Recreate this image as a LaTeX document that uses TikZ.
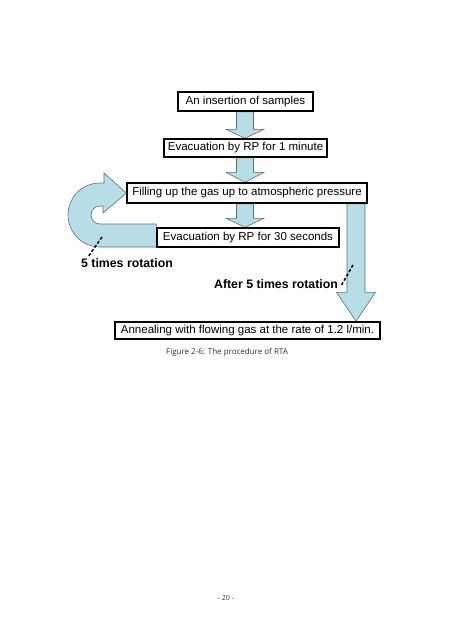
\documentclass[tikz,border=0pt]{standalone}
\usepackage{fontspec}
\setmainfont{Liberation Sans}
\newfontfamily\capfont{Open Sans}
\usetikzlibrary{calc}
\definecolor{arrowfill}{HTML}{B7DDE6}
\definecolor{arrowline}{HTML}{5F6F75}
\pgfdeclarelayer{paper}
\pgfdeclarelayer{bg}
\pgfsetlayers{paper,bg,main}
\newcommand\blockdown[5]{%
  \draw[blockarrow] ($(#1)+(-#3,0)$) -- ($(#1)+(#3,0)$) -- ($(#2)+(#3,-#5)$) -- ($(#2)+(#4,-#5)$) -- (#2) -- ($(#2)+(-#4,-#5)$) -- ($(#2)+(-#3,-#5)$) -- cycle;}
\begin{document}
\begin{tikzpicture}[x=1pt,y=-1pt,
  stepbox/.style={draw=black,line width=1.4pt,fill=white,inner sep=0pt,font=\fontsize{11.5}{13}\selectfont},
  blockarrow/.style={draw=arrowline,line width=0.6pt,fill=arrowfill,line join=miter},
  dashline/.style={draw=black,line width=1.5pt,dash pattern=on 3pt off 2pt},
  rotlabel/.style={font=\fontsize{12.3}{14}\selectfont\bfseries,inner sep=0pt}]
\begin{pgfonlayer}{paper}
\fill[white] (0,0) rectangle (452,640);
\end{pgfonlayer}
\path[use as bounding box] (0,0) rectangle (452,640);

\node[stepbox,minimum width=135pt,minimum height=19pt] (b1) at (245.5,101.5) {An insertion of samples};
\node[stepbox,minimum width=163pt,minimum height=18pt] (b2) at (245.5,148) {Evacuation by RP for 1 minute};
\node[stepbox,minimum width=240pt,minimum height=20pt] (b3) at (247,193) {Filling up the gas up to atmospheric pressure};
\node[stepbox,minimum width=182pt,minimum height=19pt] (b4) at (248,237.5) {Evacuation by RP for 30 seconds};
\node[stepbox,minimum width=265pt,minimum height=17pt] (b5) at (247.5,330.5) {Annealing with flowing gas at the rate of 1.2 l/min.};

\node[rotlabel] (l1) at (127,263) {5 times rotation};
\node[rotlabel] (l2) at (276,284) {After 5 times rotation};

\node[font=\capfont\fontsize{8}{10}\selectfont,text=black!80,inner sep=0pt] (cap) at (227,352) {Figure 2-6: The procedure of RTA};
\node[font=\capfont\fontsize{7}{9}\selectfont,text=black!80,inner sep=0pt] (pg) at (226,598) {- 20 -};

\coordinate (ax) at (245,0);
\coordinate (ay) at (356,0);
\coordinate (a1s) at (ax |- b1.south);
\coordinate (a1e) at (ax |- b2.north);
\coordinate (a2s) at (ax |- b2.south);
\coordinate (a2e) at (ax |- b3.north);
\coordinate (a3s) at (ax |- b3.south);
\coordinate (a3e) at (ax |- b4.north);
\coordinate (a4s) at (ay |- b3.south);
\coordinate (a4e) at (ay |- b5.north);

\begin{pgfonlayer}{bg}
\blockdown{a1s}{a1e}{8.5}{19}{9}
\blockdown{a2s}{a2e}{8.5}{19}{10}
\blockdown{a3s}{a3e}{8.5}{19}{9}
\blockdown{a4s}{a4e}{9}{19.5}{29}
% U-turn arrow from b4 back to b3
\draw[blockarrow] (b4.west |- 0,247) -- (100,247) arc[start angle=90,end angle=270,radius=32]
  -- (104,183) -- (104,173) -- (b3.west) -- (103,213) -- (103,206) -- (100,206)
  arc[start angle=270,end angle=90,radius=9] -- (b4.west |- 0,224) -- cycle;
\end{pgfonlayer}

\coordinate (d1a) at (102,237);
\coordinate (d1b) at (88,257);
\draw[dashline] (d1a) -- (d1b);
\coordinate (d2a) at (353,265);
\coordinate (d2b) at (341,286);
\draw[dashline] (d2a) -- (d2b);
\end{tikzpicture}
\end{document}
